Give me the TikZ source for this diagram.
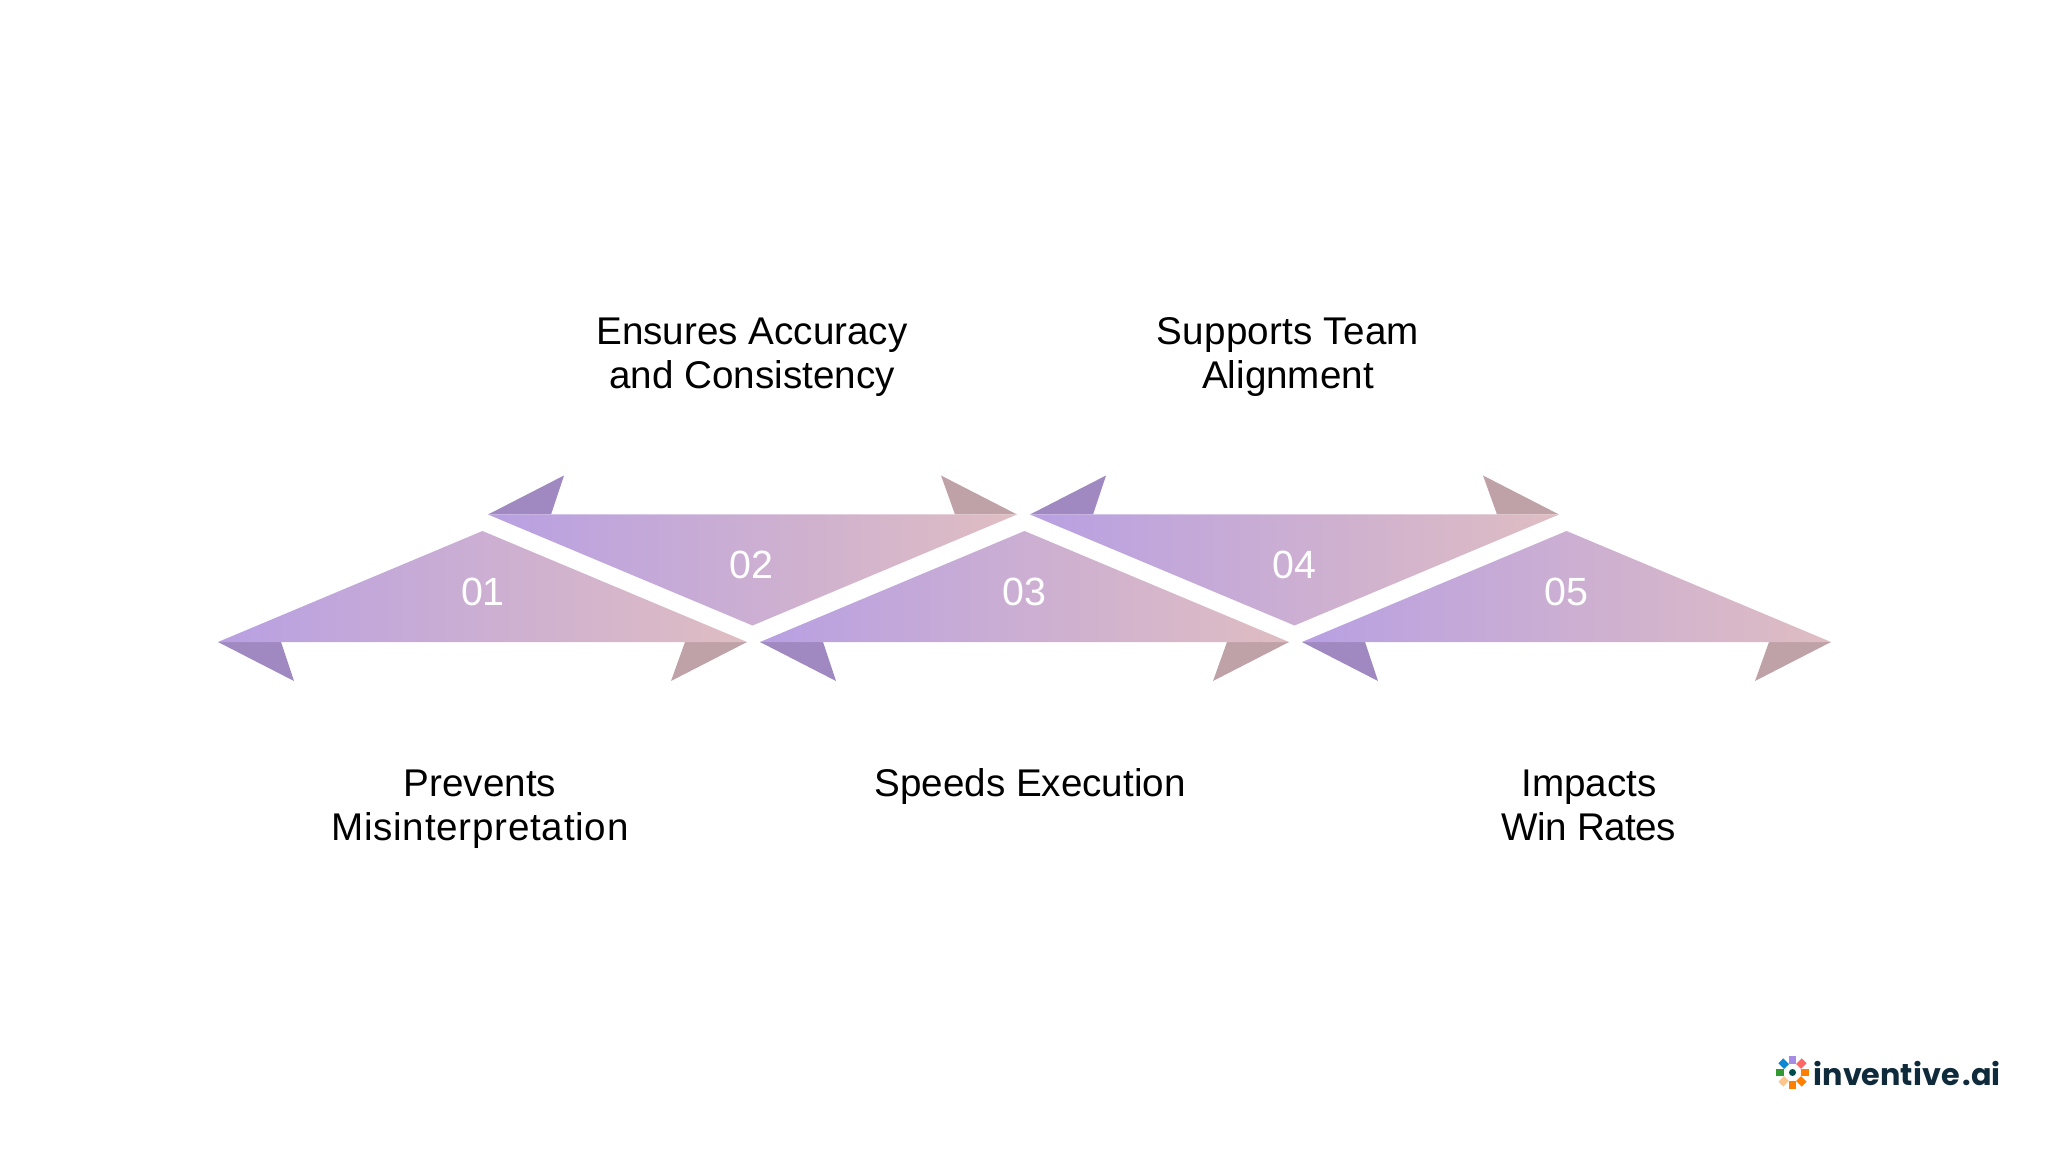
\documentclass[tikz,border=0pt]{standalone}
\usepackage{fontspec}
\setmainfont{Liberation Sans}
\newfontfamily\logofont{Poppins}
\definecolor{gradL}{HTML}{B8A0E2}
\definecolor{gradR}{HTML}{DFBDC2}
\definecolor{flagL}{HTML}{A088C0}
\definecolor{flagR}{HTML}{BFA1A8}
\definecolor{logoink}{HTML}{0F2A3A}
\tikzset{
  band/.style={left color=gradL,right color=gradR,shading angle=90},
  flagleft/.style={fill=flagL},
  flagright/.style={fill=flagR},
  numlabel/.style={text=white,font=\fontsize{11.2}{13}\selectfont,inner sep=0pt},
  caption/.style={text=black,font=\fontsize{10.98}{12.43}\selectfont,align=center,inner sep=0pt},
}
\newcommand{\upband}[1]{%
  \fill[flagleft] (#1,642) -- ({#1+63},642) -- ({#1+76},681) -- cycle;
  \fill[flagright] ({#1+467},642) -- ({#1+453},681) -- ({#1+529},642) -- cycle;
  \shade[band] (#1,642) -- ({#1+264.5},531) -- ({#1+529},642) -- cycle;
}
\newcommand{\downband}[1]{%
  \fill[flagleft] (#1,514.5) -- ({#1+63},514.5) -- ({#1+76},475.5) -- cycle;
  \fill[flagright] ({#1+467},514.5) -- ({#1+453},475.5) -- ({#1+529},514.5) -- cycle;
  \shade[band] (#1,514.5) -- ({#1+529},514.5) -- ({#1+264.5},625.5) -- cycle;
}
\newcommand{\ribbon}[2]{%
  \fill[#2,rotate around={#1:(1792.5,1072.5)}]
    (1789,1064) -- (1796,1064) -- (1796,1056) -- (1789,1056) -- cycle;
}
\begin{document}
\begin{tikzpicture}[x=0.01cm,y=-0.01cm]
\useasboundingbox (0,0) rectangle (2048,1152);
\upband{218}
\downband{488}
\upband{760}
\downband{1030}
\upband{1302}
\node[numlabel] (n1) at (483,592) {01};
\node[numlabel] (n2) at (751,564.5) {02};
\node[numlabel] (n3) at (1024,592) {03};
\node[numlabel] (n4) at (1294,564.5) {04};
\node[numlabel] (n5) at (1566,592) {05};
\node[caption] (t2) at (752,357) {Ensures Accuracy\\and Consistency};
\node[caption] (t4) at (1288,357) {{\addfontfeature{LetterSpace=0.6}Supports Team}\\Alignment};
\node[caption] (t1) at (480,809) {Prevents\\{\addfontfeature{LetterSpace=1.9}Misinterpretation}};
\node[caption] (t3) at (1030,787) {Speeds Execution};
\node[caption] (t5) at (1589,805.5) {Impacts\\{\addfontfeature{LetterSpace=-1.5}Win Rates}};
\ribbon{0}{violet!45!blue!45!white}
\ribbon{45}{cyan!70!blue}
\ribbon{90}{green!50!black!80!white}
\ribbon{135}{orange!45!white}
\ribbon{180}{orange}
\ribbon{225}{orange}
\ribbon{270}{orange}
\ribbon{315}{red!60!white}
\fill[teal!60!black] (1792.5,1072.5) circle (3.5);
\node[inner sep=0pt,anchor=base west,text=logoink,font=\logofont\bfseries\fontsize{8.6}{12}\selectfont] (logo) at (1813,1085) {inventive\kern0.8pt.ai};
\end{tikzpicture}
\end{document}
